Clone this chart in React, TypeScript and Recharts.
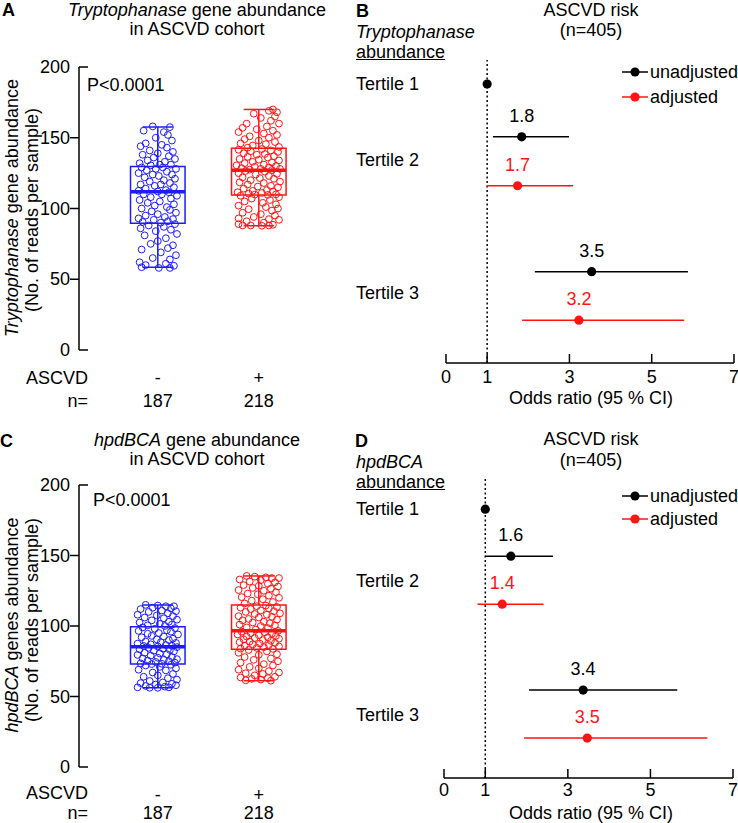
import React from "react";
import {
  ErrorBar,
  ReferenceArea,
  ReferenceLine,
  Scatter,
  ScatterChart,
  XAxis,
  YAxis,
} from "recharts";

const FONT = "'Liberation Sans', Arial, Helvetica, sans-serif";
const BLUE = "#1c1cff";
const RED = "#ff1414";
const INK = "#000";

// ---- A / C: gene abundance box plots ----
const groupSigns = ["-", "+"];
const groupN = [187, 218];
const readTicks = [0, 50, 100, 150, 200];

// [min, q1, median, q3, max]
const trpNegBox = [58.5, 89.6, 111.8, 129.6, 157.6];
const trpPosBox = [87.8, 109.6, 127, 142.6, 170];
const hpdNegBox = [56.2, 73, 85.3, 99.5, 114.9];
const hpdPosBox = [61.2, 83.5, 96.7, 114.9, 135.5];

// samples: [jitter, reads]
const trpNeg: [number, number][] = [
  [-0.05, 158], [0.12, 157.5], [-0.14, 155], [0.06, 154], [0.1, 152], [-0.02, 150], [0.14, 148], [-0.12, 146],
  [0.04, 145], [-0.17, 144], [0.09, 143], [-0.08, 141], [0.15, 140], [0.0, 139], [-0.15, 138], [0.11, 137],
  [-0.04, 136], [0.17, 135], [-0.1, 134], [0.07, 133], [-0.18, 132], [0.02, 131], [0.13, 131], [-0.07, 130.5],
  [-0.16, 129], [0.05, 129], [-0.02, 128], [0.18, 128], [-0.11, 127], [0.09, 126], [-0.19, 125], [0.14, 124],
  [-0.05, 124], [0.01, 123], [-0.13, 122], [0.17, 121], [0.06, 120], [-0.08, 119], [0.12, 118], [-0.17, 117],
  [0.03, 117], [-0.03, 116], [0.16, 115], [-0.12, 114], [0.08, 113], [-0.19, 112.5], [0.0, 112], [0.11, 111.5],
  [-0.14, 110], [0.04, 110], [0.19, 109], [-0.07, 108], [0.13, 107], [-0.18, 106], [0.02, 105], [-0.1, 104],
  [0.16, 103], [-0.03, 102], [0.09, 101], [-0.16, 100], [0.12, 99], [-0.06, 98], [0.18, 97], [0.0, 96],
  [-0.12, 95], [0.07, 94], [-0.19, 93], [0.15, 92.5], [-0.04, 92], [0.1, 91], [-0.15, 90.5], [0.03, 90],
  [0.17, 89], [-0.09, 88], [0.06, 87], [-0.17, 86], [0.13, 85], [-0.02, 84], [0.19, 82], [-0.13, 81],
  [0.08, 79], [0.0, 77], [-0.07, 75], [0.15, 74], [0.1, 72], [-0.16, 71], [0.03, 69], [0.18, 67],
  [-0.05, 65], [0.12, 64], [-0.18, 62], [0.08, 61], [-0.12, 60], [0.16, 59.5], [-0.16, 58.5], [0.01, 58], [0.12, 58],
];

const trpPos: [number, number][] = [
  [0.14, 170], [0.1, 169], [0.18, 168], [-0.05, 167], [0.16, 165], [0.02, 164], [0.12, 162], [-0.12, 160],
  [0.2, 160], [0.08, 158], [-0.16, 157], [-0.02, 156], [0.14, 155], [-0.2, 154], [0.05, 153], [0.18, 152],
  [-0.09, 151], [0.1, 150], [-0.14, 149], [0.0, 148], [0.16, 147], [-0.18, 146], [0.07, 145.5], [-0.06, 144.5],
  [0.2, 143.5], [-0.11, 143], [0.03, 142], [-0.2, 141.5], [0.12, 141], [-0.08, 140.5], [0.19, 140], [-0.15, 139],
  [0.06, 138.5], [-0.02, 138], [0.15, 137], [-0.11, 136.5], [0.09, 136], [-0.19, 135], [0.0, 134.5], [0.2, 134],
  [-0.06, 133], [0.13, 132.5], [-0.14, 132], [0.05, 131], [-0.22, 130.5], [0.17, 130], [-0.04, 129.5], [0.1, 129],
  [-0.17, 128.5], [0.02, 128], [0.21, 128], [-0.09, 127.5], [0.13, 127.2], [-0.13, 126.5], [0.06, 126], [-0.2, 125],
  [0.18, 124.5], [-0.03, 124], [0.1, 123], [-0.16, 122], [0.01, 121.5], [0.15, 121], [-0.08, 120], [0.21, 119],
  [-0.19, 118.5], [0.05, 118], [-0.11, 117], [0.12, 116], [-0.01, 115.5], [0.19, 115], [-0.15, 114], [0.08, 113],
  [-0.06, 112.5], [0.14, 112], [-0.21, 111.5], [0.03, 111], [-0.1, 110.5], [0.17, 110], [-0.04, 109.8], [0.09, 109.6],
  [-0.18, 109], [0.2, 108], [-0.07, 107], [0.11, 106], [-0.14, 105], [0.04, 104], [0.17, 103], [-0.2, 102],
  [0.07, 101], [0.19, 100], [-0.1, 99.5], [0.13, 98.5], [-0.16, 97], [0.02, 96], [0.16, 95], [-0.05, 94],
  [-0.2, 93], [0.1, 92.5], [0.2, 92], [-0.12, 91], [0.05, 90], [-0.2, 89], [0.14, 88.5], [-0.08, 88],
  [-0.16, 88], [0.03, 87.8], [0.1, 88],
];

const hpdNeg: [number, number][] = [
  [-0.12, 115], [0.0, 114.5], [0.08, 114], [0.16, 114], [-0.05, 113], [0.13, 112.5], [-0.17, 112], [0.04, 111],
  [0.18, 110.5], [-0.09, 110], [0.1, 109], [-0.2, 108], [-0.01, 107.5], [0.15, 107], [-0.13, 106], [0.06, 105.5],
  [0.19, 104.5], [-0.06, 104], [0.11, 103], [-0.18, 102.5], [0.02, 101.5], [0.14, 101], [-0.1, 100.5], [0.07, 100],
  [-0.15, 99], [0.17, 98.5], [-0.03, 98], [0.09, 97], [-0.19, 96.5], [0.13, 96], [0.01, 95], [-0.1, 94.5],
  [0.2, 94], [-0.06, 93], [0.06, 92.5], [-0.16, 92], [0.15, 91], [-0.01, 90.5], [0.11, 90], [-0.12, 89],
  [0.03, 88.5], [0.18, 88], [-0.2, 87.5], [-0.07, 87], [0.08, 86.5], [0.14, 86], [-0.14, 85.8], [0.0, 85.5],
  [0.19, 85], [-0.09, 84.5], [0.05, 84], [-0.18, 83.5], [0.12, 83], [-0.04, 82.5], [0.16, 82], [-0.13, 81],
  [0.02, 80.5], [0.09, 80], [-0.2, 79.5], [-0.07, 79], [0.14, 78], [0.0, 77.5], [-0.15, 77], [0.19, 76.5],
  [0.06, 76], [-0.1, 75.5], [0.11, 75], [-0.02, 74.5], [0.17, 74], [-0.17, 73.5], [0.04, 73.2], [-0.06, 73],
  [0.13, 72.5], [-0.12, 72], [0.02, 71], [0.18, 70], [-0.19, 69], [0.08, 68.5], [-0.05, 67], [0.15, 66],
  [0.0, 65], [-0.14, 64], [0.1, 63], [0.19, 62], [-0.08, 61], [0.05, 60], [-0.17, 59.5], [0.14, 59],
  [-0.02, 58.5], [0.18, 58], [-0.12, 57.5], [0.07, 57], [-0.2, 56.5], [0.11, 56.5], [0.0, 56.2], [-0.08, 56.2],
];

const hpdPos: [number, number][] = [
  [-0.12, 135.5], [-0.04, 135], [0.07, 134.5], [0.13, 134], [0.2, 134], [-0.19, 133], [0.02, 132.5], [-0.09, 131.5],
  [0.16, 131], [0.09, 130], [-0.15, 129], [0.0, 128.5], [0.19, 128], [-0.06, 127], [0.12, 126.5], [-0.2, 125.5],
  [0.05, 125], [0.17, 124], [-0.11, 123], [-0.01, 122.5], [0.1, 121.5], [-0.17, 120.5], [0.2, 120], [0.04, 119],
  [-0.07, 118], [0.14, 117], [-0.14, 116], [0.07, 114.5], [-0.02, 114], [0.18, 113.5], [-0.18, 113], [0.1, 112.5],
  [-0.08, 112], [0.02, 111], [0.15, 110.5], [-0.13, 110], [0.21, 109], [-0.04, 108.5], [0.08, 108], [-0.2, 107],
  [0.13, 106.5], [0.0, 106], [-0.1, 105], [0.18, 104.5], [-0.16, 104], [0.05, 103], [-0.06, 102.5], [0.11, 102],
  [-0.19, 101], [0.16, 100.5], [0.02, 100], [-0.12, 99], [0.09, 98.5], [-0.03, 97.5], [0.19, 96.5], [-0.17, 96],
  [0.06, 95.5], [-0.08, 95], [0.13, 94.5], [-0.21, 94], [0.0, 93.5], [0.17, 93], [-0.12, 92.5], [0.09, 92],
  [-0.04, 91.5], [0.2, 91], [-0.15, 90.5], [0.04, 90], [0.12, 89.5], [-0.09, 89], [-0.19, 88.5], [0.16, 88],
  [0.01, 87.5], [-0.06, 87], [0.1, 86.5], [-0.14, 86], [0.2, 85.5], [0.05, 85], [-0.02, 84.5], [-0.18, 84],
  [0.14, 83.8], [-0.1, 83], [0.08, 82], [-0.2, 81], [0.18, 80], [0.0, 79.5], [-0.14, 78], [0.12, 77],
  [-0.05, 76], [0.19, 75], [-0.18, 74], [0.05, 73], [0.14, 72], [-0.09, 71], [0.0, 70], [-0.2, 69],
  [0.1, 68], [0.2, 67], [-0.13, 66.5], [0.04, 66], [-0.04, 65], [0.16, 64], [-0.18, 63.5], [0.09, 63],
  [-0.07, 62.5], [0.02, 62], [-0.13, 61.5], [0.12, 61.2],
];

// ---- B / D: odds ratios per tertile ----
const orTicks = [0, 1, 3, 5, 7];
const tertiles = ["Tertile 1", "Tertile 2", "Tertile 3"];

const trpUnadj = [1, 1.84, 3.54];
const trpUnadjLow = [1, 1.14, 2.16];
const trpUnadjHigh = [1, 2.99, 5.88];
const trpAdj = [null, 1.74, 3.23];
const trpAdjLow = [null, 1.0, 1.85];
const trpAdjHigh = [null, 3.09, 5.79];

const hpdUnadj = [1, 1.62, 3.37];
const hpdUnadjLow = [1, 1.0, 2.06];
const hpdUnadjHigh = [1, 2.64, 5.65];
const hpdAdj = [null, 1.41, 3.47];
const hpdAdjLow = [null, 0.81, 1.94];
const hpdAdjHigh = [null, 2.41, 6.38];

// ---------------------------------------------------------------

function Txt({ x, y, anchor = "start", style, children }: any) {
  const tx = anchor === "middle" ? "-50%" : anchor === "end" ? "-100%" : "0";
  return (
    <div
      style={{
        position: "absolute",
        left: x,
        top: y,
        transform: `translate(${tx}, -50%)`,
        whiteSpace: "nowrap",
        lineHeight: "20px",
        ...style,
      }}
    >
      {children}
    </div>
  );
}

function VTxt({ x, y, children }: any) {
  return (
    <div
      style={{
        position: "absolute",
        left: x,
        top: y,
        transform: "translate(-50%, -50%) rotate(-90deg)",
        whiteSpace: "nowrap",
        lineHeight: "20px",
      }}
    >
      {children}
    </div>
  );
}

const ReadsTick = (p: any) => {
  const v = p.payload.value;
  const inward = v === 0 || v === 200; // end ticks point into the plot
  return (
    <g>
      <line
        x1={inward ? p.x : p.x - 9}
        x2={inward ? p.x + 9 : p.x}
        y1={p.y}
        y2={p.y}
        stroke={INK}
        strokeWidth={1.5}
      />
      <text x={p.x - 9} y={p.y} textAnchor="end" dominantBaseline="central" fill={INK} fontSize={18} fontFamily={FONT}>
        {v}
      </text>
    </g>
  );
};

const groupTick = (nOffset: number) => (p: any) => {
  const i = p.payload.value - 1;
  return (
    <g fill={INK} fontSize={18} fontFamily={FONT}>
      <text x={p.x} y={p.y + 27.5} textAnchor="middle" dominantBaseline="central">
        {groupSigns[i]}
      </text>
      <text x={p.x} y={p.y + nOffset} textAnchor="middle" dominantBaseline="central">
        {groupN[i]}
      </text>
    </g>
  );
};

function BoxPanel({ top, plotH, boxes, samples, nOffset }: any) {
  const boxHalf = 0.27;
  const capHalf = 0.15;
  const colors = [BLUE, RED];
  return (
    <div style={{ position: "absolute", left: 0, top }}>
      <ScatterChart width={340} height={67 + plotH + 62} margin={{ top: 67, right: 10.5, bottom: 12, left: 39 }}>
        <XAxis
          type="number"
          dataKey="x"
          domain={[0.22, 2.7]}
          ticks={[1, 2]}
          interval={0}
          axisLine={false}
          tickLine={false}
          tickSize={0}
          tickMargin={0}
          height={50}
          tick={groupTick(nOffset)}
        />
        <YAxis
          type="number"
          dataKey="y"
          domain={[0, 200]}
          ticks={readTicks}
          interval={0}
          width={40}
          axisLine={{ stroke: INK, strokeWidth: 1.5 }}
          tickLine={false}
          tickSize={0}
          tickMargin={0}
          tick={ReadsTick}
        />
        {boxes.map((b: number[], i: number) => {
          const g = i + 1;
          const c = colors[i];
          return (
            <React.Fragment key={g}>
              <ReferenceArea x1={g - boxHalf} x2={g + boxHalf} y1={b[1]} y2={b[3]} fill="none" fillOpacity={0} stroke={c} strokeWidth={1.5} />
              <ReferenceLine segment={[{ x: g, y: b[3] }, { x: g, y: b[4] }]} stroke={c} strokeWidth={1.5} />
              <ReferenceLine segment={[{ x: g, y: b[0] }, { x: g, y: b[1] }]} stroke={c} strokeWidth={1.5} />
              <ReferenceLine segment={[{ x: g - capHalf, y: b[4] }, { x: g + capHalf, y: b[4] }]} stroke={c} strokeWidth={1.5} />
              <ReferenceLine segment={[{ x: g - capHalf, y: b[0] }, { x: g + capHalf, y: b[0] }]} stroke={c} strokeWidth={1.5} />
              <ReferenceLine segment={[{ x: g - boxHalf, y: b[2] }, { x: g + boxHalf, y: b[2] }]} stroke={c} strokeWidth={3.5} />
            </React.Fragment>
          );
        })}
        {samples.map((pts: [number, number][], i: number) => (
          <Scatter
            key={i}
            data={pts.map(([dx, v]) => ({ x: i + 1 + dx, y: v }))}
            isAnimationActive={false}
            shape={(p: any) => <circle cx={p.cx} cy={p.cy} r={3.4} fill="none" stroke={colors[i]} strokeWidth={1} />}
          />
        ))}
      </ScatterChart>
    </div>
  );
}

const orTick = (labelOffset: number) => (p: any) => (
  <g>
    <line x1={p.x} x2={p.x} y1={p.y} y2={p.y - 9} stroke={INK} strokeWidth={1.5} />
    <text x={p.x} y={p.y + labelOffset} textAnchor="middle" dominantBaseline="central" fill={INK} fontSize={18} fontFamily={FONT}>
      {p.payload.value}
    </text>
  </g>
);

const orDot = (color: string) => (p: any) => (
  <g>
    <circle cx={p.cx} cy={p.cy} r={4.6} fill={color} />
    {p.payload.label ? (
      <text x={p.cx} y={p.cy - 21} textAnchor="middle" dominantBaseline="central" fill={color} fontSize={18} fontFamily={FONT}>
        {p.payload.label}
      </text>
    ) : null}
  </g>
);

function orRows(or: (number | null)[], lo: (number | null)[], hi: (number | null)[], slots: number[]) {
  const out: any[] = [];
  or.forEach((v, i) => {
    if (v == null) return;
    out.push({
      x: v,
      y: slots[i],
      err: [v - (lo[i] as number), (hi[i] as number) - v],
      label: i === 0 ? "" : v.toFixed(1),
    });
  });
  return out;
}

function ForestPanel({ top, height, plotH, mLeft, mRight, unadj, adj, labelOffset }: any) {
  const slotPx = 48;
  return (
    <div style={{ position: "absolute", left: 370, top }}>
      <ScatterChart width={368} height={height} margin={{ top: 60, right: mRight, bottom: height - 60 - plotH - 45, left: mLeft }}>
        <XAxis
          type="number"
          dataKey="x"
          domain={[0, 7]}
          ticks={orTicks}
          interval={0}
          height={45}
          axisLine={{ stroke: INK, strokeWidth: 1.5 }}
          tickLine={false}
          tickSize={0}
          tickMargin={0}
          tick={orTick(labelOffset)}
        />
        <YAxis type="number" dataKey="y" hide width={0} reversed domain={[0, plotH / slotPx]} />
        <ReferenceLine x={1} stroke={INK} strokeWidth={1.5} strokeDasharray="2 2.5" />
        <Scatter name="unadjusted" data={unadj} isAnimationActive={false} shape={orDot(INK)}>
          <ErrorBar dataKey="err" direction="x" width={0} stroke={INK} strokeWidth={1.5} isAnimationActive={false} />
        </Scatter>
        <Scatter name="adjusted" data={adj} isAnimationActive={false} shape={orDot(RED)}>
          <ErrorBar dataKey="err" direction="x" width={0} stroke={RED} strokeWidth={1.5} isAnimationActive={false} />
        </Scatter>
      </ScatterChart>
    </div>
  );
}

function LegendRow({ y, color, label }: any) {
  return (
    <>
      <svg style={{ position: "absolute", left: 621, top: y - 6 }} width={28} height={12}>
        <line x1={1} x2={27} y1={6} y2={6} stroke={color} strokeWidth={1.5} />
        <circle cx={14} cy={6} r={4.6} fill={color} />
      </svg>
      <Txt x={650} y={y}>
        {label}
      </Txt>
    </>
  );
}

export default function App() {
  // row slots (in units of 48 px below the top of the dotted reference line)
  const trpUnadjRows = orRows(trpUnadj, trpUnadjLow, trpUnadjHigh, [0.5, 1.6, 4.41]);
  const trpAdjRows = orRows(trpAdj, trpAdjLow, trpAdjHigh, [0, 2.62, 5.42]);
  const hpdUnadjRows = orRows(hpdUnadj, hpdUnadjLow, hpdUnadjHigh, [0.67, 1.65, 4.44]);
  const hpdAdjRows = orRows(hpdAdj, hpdAdjLow, hpdAdjHigh, [0, 2.65, 5.44]);

  return (
    <div
      style={{
        position: "absolute",
        left: 0,
        top: 0,
        width: 738,
        height: 823,
        overflow: "hidden",
        background: "#fff",
        color: INK,
        fontFamily: FONT,
        fontSize: 18,
      }}
    >
      {/* A */}
      <Txt x={2} y={10} style={{ fontWeight: "bold" }}>A</Txt>
      <Txt x={197} y={10} anchor="middle">
        <i>Tryptophanase</i> gene abundance
      </Txt>
      <Txt x={197} y={29} anchor="middle">in ASCVD cohort</Txt>
      <VTxt x={12} y={208}>
        <i>Tryptophanase</i> gene abundance
      </VTxt>
      <VTxt x={32} y={210}>(No. of reads per sample)</VTxt>
      <Txt x={87} y={85}>P&lt;0.0001</Txt>
      <Txt x={88} y={378} anchor="end">ASCVD</Txt>
      <Txt x={88} y={401} anchor="end">n=</Txt>
      <BoxPanel top={0} plotH={283} nOffset={50.5} boxes={[trpNegBox, trpPosBox]} samples={[trpNeg, trpPos]} />

      {/* B */}
      <Txt x={356} y={11} style={{ fontWeight: "bold" }}>B</Txt>
      <Txt x={591} y={10} anchor="middle">ASCVD risk</Txt>
      <Txt x={591} y={30} anchor="middle">(n=405)</Txt>
      <Txt x={356} y={32}>
        <i>Tryptophanase</i>
      </Txt>
      <Txt x={356} y={52} style={{ textDecoration: "underline" }}>abundance</Txt>
      <Txt x={356} y={84}>{tertiles[0]}</Txt>
      <Txt x={356} y={160}>{tertiles[1]}</Txt>
      <Txt x={356} y={293}>{tertiles[2]}</Txt>
      <ForestPanel top={0} height={420} plotH={303} mLeft={76} mRight={4} labelOffset={14} unadj={trpUnadjRows} adj={trpAdjRows} />
      <LegendRow y={72} color={INK} label="unadjusted" />
      <LegendRow y={97} color={RED} label="adjusted" />
      <Txt x={591} y={398} anchor="middle">Odds ratio (95 % CI)</Txt>

      {/* C */}
      <Txt x={0} y={441} style={{ fontWeight: "bold" }}>C</Txt>
      <Txt x={197} y={440} anchor="middle">
        <i>hpdBCA</i> gene abundance
      </Txt>
      <Txt x={197} y={459} anchor="middle">in ASCVD cohort</Txt>
      <VTxt x={12} y={625}>
        <i>hpdBCA</i> genes abundance
      </VTxt>
      <VTxt x={32} y={620}>(No. of reads per sample)</VTxt>
      <Txt x={93} y={500}>P&lt;0.0001</Txt>
      <Txt x={88} y={793} anchor="end">ASCVD</Txt>
      <Txt x={88} y={813} anchor="end">n=</Txt>
      <BoxPanel top={418} plotH={282} nOffset={46} boxes={[hpdNegBox, hpdPosBox]} samples={[hpdNeg, hpdPos]} />

      {/* D */}
      <Txt x={355} y={441} style={{ fontWeight: "bold" }}>D</Txt>
      <Txt x={591} y={439} anchor="middle">ASCVD risk</Txt>
      <Txt x={591} y={460} anchor="middle">(n=405)</Txt>
      <Txt x={356} y={462}>
        <i>hpdBCA</i>
      </Txt>
      <Txt x={356} y={482} style={{ textDecoration: "underline" }}>abundance</Txt>
      <Txt x={356} y={509}>{tertiles[0]}</Txt>
      <Txt x={356} y={581}>{tertiles[1]}</Txt>
      <Txt x={356} y={715}>{tertiles[2]}</Txt>
      <ForestPanel top={417} height={406} plotH={301} mLeft={74} mRight={5} labelOffset={12} unadj={hpdUnadjRows} adj={hpdAdjRows} />
      <LegendRow y={496} color={INK} label="unadjusted" />
      <LegendRow y={519} color={RED} label="adjusted" />
      <Txt x={591} y={813} anchor="middle" style={{ lineHeight: "18px" }}>Odds ratio (95 % CI)</Txt>
    </div>
  );
}
